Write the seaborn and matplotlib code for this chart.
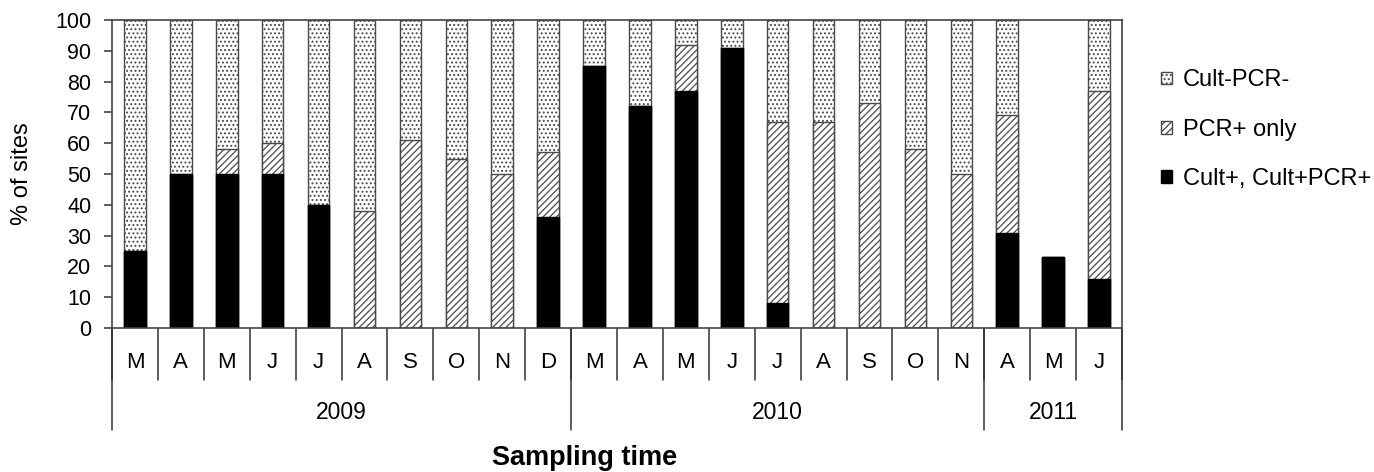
import numpy as np
import pandas as pd
import matplotlib
matplotlib.use("Agg")
import matplotlib.pyplot as plt
from matplotlib.patches import Patch
import seaborn as sns

# ---- data ----
months = ["M", "A", "M", "J", "J", "A", "S", "O", "N", "D",
          "M", "A", "M", "J", "J", "A", "S", "O", "N",
          "A", "M", "J"]
years = ["2009", "2010", "2011"]
year_counts = [10, 9, 3]
cult_pos = [25, 50, 50, 50, 40, 0, 0, 0, 0, 36,
            85, 72, 77, 91, 8, 0, 0, 0, 0,
            31, 23, 16]
pcr_only = [0, 0, 8, 10, 0, 38, 61, 55, 50, 21,
            0, 0, 15, 0, 59, 67, 73, 58, 50,
            38, 0, 61]
cult_neg = [75, 50, 42, 40, 60, 62, 39, 45, 50, 43,
            15, 28, 8, 9, 33, 33, 27, 42, 50,
            31, 0, 23]
series_labels = ["Cult-PCR-", "PCR+ only", "Cult+, Cult+PCR+"]

sns.set_theme(style="white")
plt.rcParams["font.family"] = ["Liberation Sans", "DejaVu Sans"]
plt.rcParams["hatch.linewidth"] = 0.9
plt.rcParams["text.color"] = "black"
plt.rcParams["axes.labelcolor"] = "black"
plt.rcParams["ytick.labelcolor"] = "black"

n = len(months)
pos = list(range(n))
c1 = np.array(cult_pos)
c2 = c1 + np.array(pcr_only)
c3 = c2 + np.array(cult_neg)
df = pd.DataFrame({"pos": pos, "black": c1, "hatch": c2, "dots": c3})

fig = plt.figure(figsize=(13.74, 4.72), dpi=100)
ax = fig.add_axes([112/1374, 1-328/472, (1122-112)/1374, 308/472])

edge = "#4a4a4a"
bw = 0.47
sns.barplot(data=df, x="pos", y="dots", ax=ax, color="white", width=bw,
            edgecolor=edge, linewidth=1.0, hatch="....", native_scale=True,
            saturation=1)
sns.barplot(data=df, x="pos", y="hatch", ax=ax, color="white", width=bw,
            edgecolor=edge, linewidth=1.0, hatch="/////", native_scale=True,
            saturation=1)
sns.barplot(data=df, x="pos", y="black", ax=ax, color="black", width=bw,
            edgecolor="black", linewidth=1.0, native_scale=True, saturation=1)

ax.set_xlim(-0.5, n - 0.5)
ax.set_ylim(0, 100)
ax.set_yticks(range(0, 101, 10))
ax.tick_params(axis="y", which="both", left=True, length=6, width=1.1,
               color="#333333", labelsize=15.5, pad=9, labelcolor="black")
ax.set_xticks([])
ax.set_xlabel("")
ax.set_ylabel("% of sites", fontsize=17, color="black")
ax.yaxis.set_label_coords(-0.078, 0.5)
for s in ax.spines.values():
    s.set_visible(True)
    s.set_color("#444444")
    s.set_linewidth(1.2)

trans = ax.get_xaxis_transform()
# month separators and labels
for k in range(n + 1):
    ax.plot([k - 0.5, k - 0.5], [0, -0.169], transform=trans, color="#333333",
            lw=1.1, clip_on=False)
for k, m in enumerate(months):
    ax.text(k, -0.1136, m, transform=trans, ha="center", va="center",
            fontsize=16, color="black")
# year separators and labels
start = 0
for yr, cnt in zip(years, year_counts):
    ax.plot([start - 0.5, start - 0.5], [0, -0.331], transform=trans,
            color="#333333", lw=1.1, clip_on=False)
    ax.text(start - 0.5 + cnt / 2, -0.273, yr, transform=trans, ha="center",
            va="center", fontsize=16.5, color="black")
    start += cnt
ax.plot([start - 0.5, start - 0.5], [0, -0.331], transform=trans,
        color="#333333", lw=1.1, clip_on=False)

fig.text(585/1374, 1-458/472, "Sampling time", ha="center", va="center",
         fontsize=19.5, fontweight="bold", color="black")

handles = [Patch(facecolor="white", edgecolor=edge, hatch="...."),
           Patch(facecolor="white", edgecolor=edge, hatch="/////"),
           Patch(facecolor="black", edgecolor="black")]
leg = fig.legend(handles, series_labels, loc="upper left",
                 bbox_to_anchor=(1152/1374, 1-60/472), frameon=False,
                 fontsize=17, handlelength=0.45, handleheight=0.45,
                 handletextpad=0.45, labelspacing=1.15, borderaxespad=0)
for t in leg.get_texts():
    t.set_color("black")

fig.savefig("out.png", dpi=100)
